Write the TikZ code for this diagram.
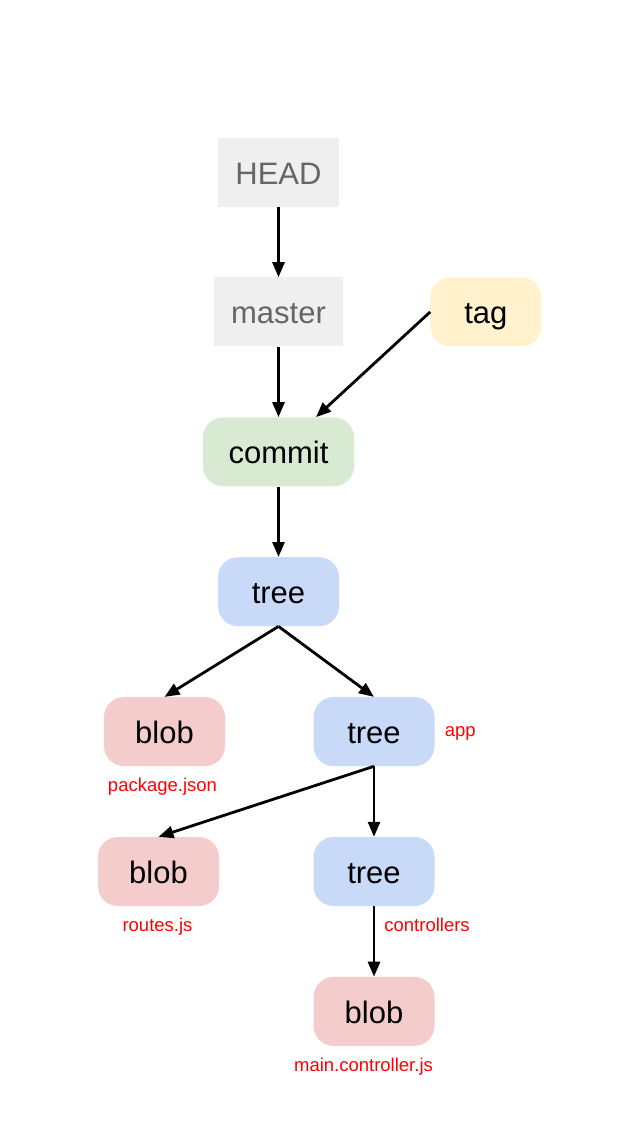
\documentclass[tikz,border=0pt]{standalone}
\usepackage{fontspec}
\setmainfont{Liberation Sans}
\usetikzlibrary{arrows.meta,positioning}
\definecolor{refgray}{HTML}{EFEFEF}
\definecolor{reftext}{HTML}{666666}
\definecolor{tagyellow}{HTML}{FFF2CC}
\definecolor{commitgreen}{HTML}{D9EAD3}
\definecolor{treeblue}{HTML}{C9DAF8}
\definecolor{blobred}{HTML}{F4CCCC}

\begin{document}
\begin{tikzpicture}[x=1pt,y=1pt,
  refbox/.style={rectangle,fill=refgray,text=reftext,minimum height=69pt,text height=24pt,text depth=0pt,font=\fontsize{31}{36}\selectfont},
  objbox/.style={rectangle,rounded corners=20pt,minimum height=69pt,minimum width=121pt,text height=24pt,text depth=0pt,font=\fontsize{31}{36}\selectfont},
  treebox/.style={objbox,fill=treeblue},
  blobbox/.style={objbox,fill=blobred},
  filelabel/.style={text=red,inner sep=1pt,font=\fontsize{18.5}{22}\selectfont},
  link/.style={-{Triangle[length=15pt,width=12pt]},line width=2.8pt},
  node distance=70.5pt]

  \useasboundingbox (0,0) rectangle (622,-1137);

  \node[refbox, minimum width=121pt] (head) at (278.5,-172) {HEAD};
  \node[refbox, minimum width=129pt] (master) [below=of head] {master};
  \node[objbox, fill=tagyellow, minimum width=111pt] (tag) [right=87pt of master] {tag};
  \node[objbox, fill=commitgreen, minimum width=151pt] (commit) [below=of master] {commit};
  \node[treebox] (root) [below=of commit] {tree};
  \node[blobbox] (package) [below=of root, xshift=-114pt] {blob};
  \node[treebox] (app) [below=of root, xshift=95.5pt] {tree};
  \node[blobbox] (routes) [below=of app, xshift=-215.5pt] {blob};
  \node[treebox] (controllers) [below=of app] {tree};
  \node[blobbox] (main) [below=of controllers] {blob};

  % file and folder names
  \node[filelabel] (appname) [right=9pt of app, yshift=-2pt] {app};
  \node[filelabel] (packagename) [below=11pt of package, xshift=-2pt] {package.json};
  \node[filelabel] (routesname) [below=11pt of routes, xshift=-1pt] {routes.js};
  \node[filelabel] (mainname) [below=11pt of main, xshift=-10.5pt] {main.controller.js};

  \draw[link] (head) -- (master);
  \draw[link] (master) -- (commit);
  \draw[link] (tag.west) -- ([xshift=37.5pt]commit.north);
  \draw[link] (commit) -- (root);
  \draw[link] (root.south) -- (package.north);
  \draw[link] (root.south) -- (app.north);
  \draw[link] (app.south) -- (routes.north);
  \draw[link] (app) -- (controllers);
  \draw[link] (controllers) -- node[filelabel, right=8pt, pos=0.27] (controllersname) {controllers} (main);
\end{tikzpicture}
\end{document}
